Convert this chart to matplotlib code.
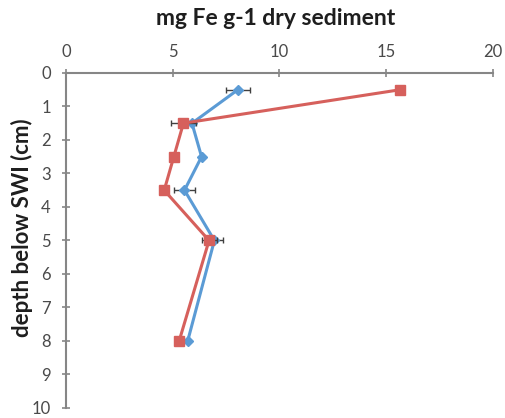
import matplotlib
matplotlib.use("Agg")
import matplotlib.pyplot as plt

depth_blue = [0.5, 1.5, 2.5, 3.5, 5, 8]
fe_blue = [8.05, 5.9, 6.35, 5.55, 6.95, 5.7]
err_blue = [0.55, 0.0, 0.0, 0.5, 0.4, 0.0]

depth_red = [0.5, 1.5, 2.5, 3.5, 5, 8]
fe_red = [15.65, 5.5, 5.05, 4.6, 6.7, 5.3]
err_red = [0.2, 0.6, 0.0, 0.2, 0.35, 0.0]

x_ticks = [0, 5, 10, 15, 20]
y_ticks = list(range(0, 11))

plt.rcParams['font.family'] = ['Lato', 'DejaVu Sans']

fig = plt.figure(figsize=(5.05, 4.18), dpi=100)
ax = fig.add_axes([0.1307, 0.024, 0.8455, 0.8014])

blue = '#5B9BD5'
red = '#D6605C'
ax.errorbar(fe_blue, depth_blue, xerr=err_blue, color=blue, lw=2.2,
            marker='D', ms=5.5, ecolor='#404040', elinewidth=1, capsize=2.5, zorder=3)
ax.errorbar(fe_red, depth_red, xerr=err_red, color=red, lw=2.2,
            marker='s', ms=6.5, ecolor='#404040', elinewidth=1, capsize=2.5, zorder=4)

ax.set_xlim(0, 20)
ax.set_ylim(10, 0)
ax.set_xticks(x_ticks)
ax.set_yticks(y_ticks)
ax.xaxis.tick_top()
ax.xaxis.set_label_position('top')
for s in ['right', 'bottom']:
    ax.spines[s].set_visible(False)
for s in ['top', 'left']:
    ax.spines[s].set_color('#868686')
    ax.spines[s].set_linewidth(1.5)
ax.tick_params(axis='both', direction='inout', length=6, width=1.2,
               color='#868686', labelsize=12, labelcolor='#4a4a4a')
ax.tick_params(axis='x', pad=6)
ax.tick_params(axis='y', pad=8)

ax.set_xlabel('mg Fe g-1 dry sediment', fontsize=16.5, fontweight='bold',
              color='#1e1e1e', va='center')
ax.xaxis.set_label_coords(0.49, 1.164)
ax.set_ylabel('depth below SWI (cm)', fontsize=16, fontweight='bold',
              color='#1e1e1e', va='center')
ax.yaxis.set_label_coords(-0.103, 0.537)

fig.savefig('out.png', dpi=100)
